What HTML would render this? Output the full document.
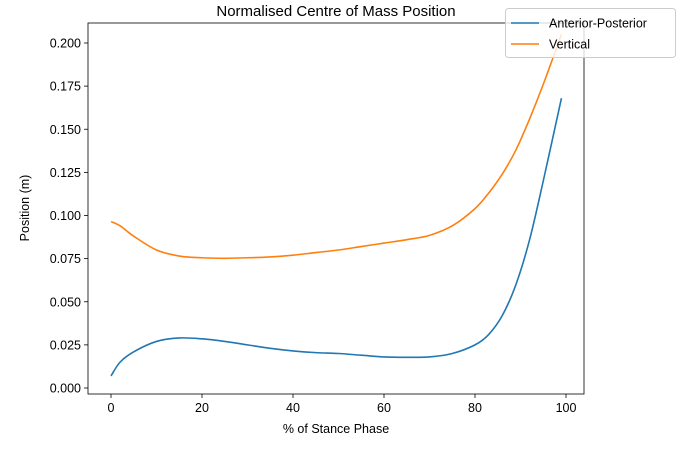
<!DOCTYPE html>
<html><head><meta charset="utf-8"><style>
body{margin:0;background:#fff;font-family:"Liberation Sans","DejaVu Sans",sans-serif;}
svg text{font-family:"Liberation Sans","DejaVu Sans",sans-serif;}
</style></head><body>
<svg id="chart" width="697" height="445">
</svg>
<script>
const xs = [0,2,5,10,15,20,25,30,35,40,45,50,55,60,65,70,75,80,83,86,89,92,95,99];
const apValues = [0.007,0.015,0.021,0.027,0.029,0.0285,0.027,0.025,0.023,0.0215,0.0205,0.020,0.019,0.018,0.0178,0.018,0.020,0.025,0.031,0.042,0.060,0.086,0.120,0.168];
const vertValues = [0.0965,0.094,0.088,0.080,0.0765,0.0755,0.0752,0.0755,0.076,0.077,0.0785,0.080,0.082,0.084,0.086,0.0885,0.094,0.104,0.113,0.124,0.138,0.156,0.176,0.205];
const xTicks = [0,20,40,60,80,100];
const yTicks = [0.000,0.025,0.050,0.075,0.100,0.125,0.150,0.175,0.200];
const seriesNames = ["Anterior-Posterior","Vertical"];

const NS="http://www.w3.org/2000/svg";
const svg=document.getElementById('chart');
const L=88,R=584,T=23,B=394;
const xS=v=>111+(v-0)*(566-111)/100;
const yS=v=>388-(v)*(388-43)/0.2;
function el(tag,attrs,parent){const e=document.createElementNS(NS,tag);for(const k in attrs)e.setAttribute(k,attrs[k]);(parent||svg).appendChild(e);return e;}

const frame=el('rect',{x:L,y:T,width:R-L,height:B-T,fill:'none',stroke:'#000','stroke-width':0.8});



xTicks.forEach(t=>{
  const x=xS(t);
  const ln=el('line',{x1:x,x2:x,y1:B,y2:B+4,stroke:'#000','stroke-width':0.8});
  
  
  const tx=el('text',{x:x,y:B+18,'text-anchor':'middle','font-size':12.5});
  tx.textContent=t;
  
  
});
yTicks.forEach(t=>{
  const y=yS(t);
  const ln=el('line',{x1:L-4,x2:L,y1:y,y2:y,stroke:'#000','stroke-width':0.8});
  
  
  const tx=el('text',{x:L-7,y:y+4.5,'text-anchor':'end','font-size':12.5});
  tx.textContent=t.toFixed(3);
  
  
});

function path(vals,color,name){
  let pts=xs.map((x,i)=>[xS(x),yS(vals[i])]);
  let d='M'+pts[0][0]+','+pts[0][1];
  for(let i=0;i<pts.length-1;i++){
    const p0=pts[Math.max(0,i-1)],p1=pts[i],p2=pts[i+1],p3=pts[Math.min(pts.length-1,i+2)];
    const c1=[p1[0]+(p2[0]-p0[0])/6,p1[1]+(p2[1]-p0[1])/6];
    const c2=[p2[0]-(p3[0]-p1[0])/6,p2[1]-(p3[1]-p1[1])/6];
    d+=` C${c1[0]},${c1[1]} ${c2[0]},${c2[1]} ${p2[0]},${p2[1]}`;
  }
  const p=el('path',{d:d,fill:'none',stroke:color,'stroke-width':1.6});
  
  
}
path(apValues,'#1f77b4','anterior-posterior-line');
path(vertValues,'#ff7f0e','vertical-line');

const title=el('text',{x:336,y:16,'text-anchor':'middle','font-size':15});
title.textContent='Normalised Centre of Mass Position';


const xl=el('text',{x:336,y:433,'text-anchor':'middle','font-size':12.5});
xl.textContent='% of Stance Phase';


const yl=el('text',{x:0,y:0,'text-anchor':'middle','font-size':12.5,transform:'translate(29,208) rotate(-90)'});
yl.textContent='Position (m)';



const lg=el('rect',{x:505.5,y:8.5,width:170,height:49,rx:3,fill:'#fff','fill-opacity':0.8,stroke:'#ccc'});


const colors=['#1f77b4','#ff7f0e'];
seriesNames.forEach((n,i)=>{
  const y=23+i*21;
  const ln=el('line',{x1:511,x2:539,y1:y,y2:y,stroke:colors[i],'stroke-width':1.6});
  
  
  const tx=el('text',{x:549,y:y+4.5,'font-size':12.5});
  tx.textContent=n;
  
  
});
</script>
</body></html>
